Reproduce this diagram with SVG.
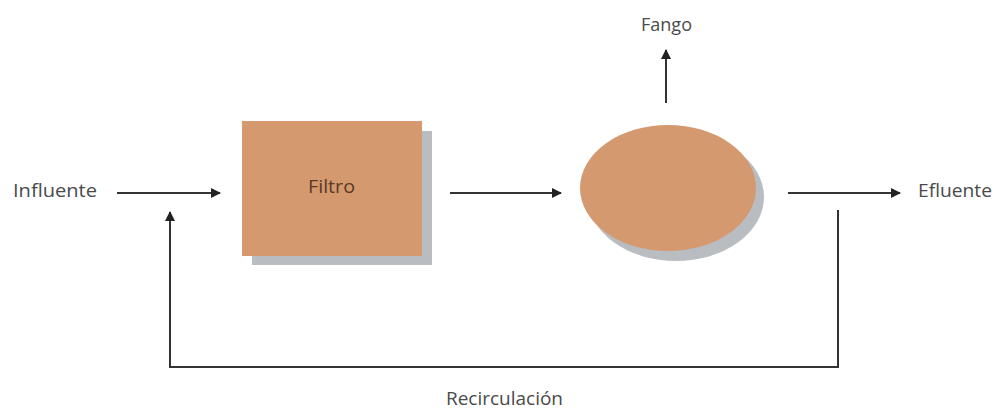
<svg xmlns="http://www.w3.org/2000/svg" width="994" height="409" viewBox="0 0 994 409">
<style>
.lbl{font-family:"Open Sans","Liberation Sans",sans-serif;font-size:18px;fill:#4a4a4a}
.ln{stroke:#333;stroke-width:2;fill:none}
.sh{fill:#b9bcc1}
.nd{fill:#d4996f}
</style>
<defs>
<marker id="ah" markerWidth="10" markerHeight="10" refX="9" refY="5" orient="auto" markerUnits="userSpaceOnUse">
<path d="M0,0 L10,5 L0,10 Z" fill="#222"/>
</marker>
</defs>
<rect width="994" height="409" fill="#fff"/>
<g id="influente"><text class="lbl" x="13" y="197" textLength="84" lengthAdjust="spacingAndGlyphs">Influente</text></g>
<g id="filtro">
<rect class="sh" x="252" y="131" width="180" height="134"/>
<rect class="nd" x="242" y="121" width="180" height="135"/>
<text class="lbl" x="308" y="193" textLength="47" lengthAdjust="spacingAndGlyphs" style="fill:#5a3a26">Filtro</text>
</g>
<g id="tanque">
<ellipse class="sh" cx="676" cy="197" rx="88" ry="64"/>
<ellipse class="nd" cx="668" cy="188" rx="88" ry="63"/>
</g>
<g id="fango"><text class="lbl" x="641" y="31" textLength="51" lengthAdjust="spacingAndGlyphs">Fango</text></g>
<g id="efluente"><text class="lbl" x="918" y="197" textLength="74" lengthAdjust="spacingAndGlyphs">Efluente</text></g>
<g id="recirculacion"><text class="lbl" x="446" y="405" textLength="117" lengthAdjust="spacingAndGlyphs">Recirculación</text></g>
<g id="connectors">
<line class="ln" x1="117" y1="193" x2="220" y2="193" marker-end="url(#ah)"/>
<line class="ln" x1="450" y1="193" x2="561" y2="193" marker-end="url(#ah)"/>
<line class="ln" x1="666" y1="103" x2="666" y2="50" marker-end="url(#ah)"/>
<line class="ln" x1="788" y1="193" x2="900" y2="193" marker-end="url(#ah)"/>
<polyline class="ln" points="838,210 838,367 170,367 170,212" marker-end="url(#ah)"/>
</g>
</svg>
